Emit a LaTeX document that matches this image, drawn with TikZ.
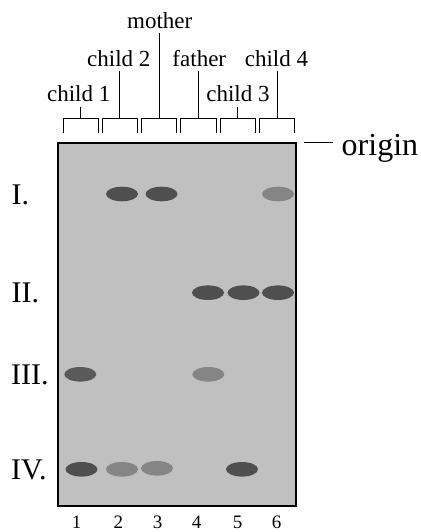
\documentclass[tikz,border=0pt]{standalone}
\usepackage{fontspec}
\setmainfont{Liberation Serif}
\definecolor{gelgray}{HTML}{C0C0C0}
\definecolor{bandDark}{HTML}{4F4F4F}
\definecolor{bandMid}{HTML}{5A5A5A}
\definecolor{bandLight}{HTML}{858585}
\begin{document}
\begin{tikzpicture}[x=1pt,y=-1pt,
  lbl/.style={font=\fontsize{23}{27}\selectfont, inner sep=0pt, anchor=base},
  lanenum/.style={font=\fontsize{19}{22}\selectfont, inner sep=0pt, anchor=base},
  rowlbl/.style={font=\fontsize{30}{34}\selectfont, inner sep=0pt, anchor=base west},
  bracketline/.style={line width=1pt},
  stem/.style={line width=1pt},
  gel/.style={fill=gelgray, draw=black, line width=1.5pt}]
\useasboundingbox (0,0) rectangle (420,532);

% gel slab
\path[gel] (58,143) rectangle (296,506);

% origin marker
\coordinate (o1) at (304,142.5);
\coordinate (o2) at (333,142.5);
\draw[line width=1pt] (o1) -- (o2);
\node[font=\fontsize{32}{36}\selectfont, inner sep=0pt, anchor=base west] (origin) at (341.5,155) {origin};

% lane brackets (pitch 39.3) with a top-centre coordinate each
\foreach \i in {1,...,6}{
  \pgfmathsetmacro{\xl}{63+39.3*(\i-1)}
  \pgfmathsetmacro{\xr}{\xl+35.3}
  \pgfmathsetmacro{\xc}{\xl+17.65}
  \draw[bracketline] (\xl,133) -- (\xl,118) -- (\xr,118) -- (\xr,133);
  \coordinate (b\i) at (\xc,118);
}

% sample labels
\node[lbl] (child1) at (78.7,101.7) {child 1};
\node[lbl] (child2) at (118.8,66.7) {child 2};
\node[lbl] (mother) at (159.7,28.3) {mother};
\node[lbl] (father) at (199.3,66.7) {father};
\node[lbl] (child3) at (238,101.7) {child 3};
\node[lbl] (child4) at (276.5,66.7) {child 4};

% stems from labels down to brackets
\coordinate (s1) at (b1 |- 0,106.7);
\coordinate (s2) at (b2 |- 0,70.7);
\coordinate (s3) at (b3 |- 0,33);
\coordinate (s4) at (b4 |- 0,70.7);
\coordinate (s5) at (b5 |- 0,106.7);
\coordinate (s6) at (b6 |- 0,70.7);
\foreach \i in {1,...,6}{ \draw[stem] (s\i) -- (b\i); }

% row labels
\node[rowlbl] (rowI)   at (11.5,204)   {I.};
\node[rowlbl] (rowII)  at (11.5,302.5) {II.};
\node[rowlbl] (rowIII) at (11,384.5)   {III.};
\node[rowlbl] (rowIV)  at (11,479.5)   {IV.};

% bands
\def\bandrx{16pt}
\def\bandry{7.3pt}
% row I
\fill[bandDark]  (122,194)   ellipse [x radius=\bandrx, y radius=\bandry];
\fill[bandDark]  (161.5,194) ellipse [x radius=\bandrx, y radius=\bandry];
\fill[bandLight] (278,194)   ellipse [x radius=\bandrx, y radius=\bandry];
% row II
\fill[bandDark]  (208,292.7)   ellipse [x radius=\bandrx, y radius=\bandry];
\fill[bandDark]  (243.5,292.7) ellipse [x radius=\bandrx, y radius=\bandry];
\fill[bandDark]  (278,292.7)   ellipse [x radius=\bandrx, y radius=\bandry];
% row III
\fill[bandMid]   (80.3,374.3)  ellipse [x radius=\bandrx, y radius=\bandry];
\fill[bandLight] (208.3,374.3) ellipse [x radius=\bandrx, y radius=\bandry];
% row IV
\fill[bandDark]  (81.5,469.3) ellipse [x radius=\bandrx, y radius=\bandry];
\fill[bandLight] (122,469.3)  ellipse [x radius=\bandrx, y radius=\bandry];
\fill[bandLight] (157,468.3)  ellipse [x radius=\bandrx, y radius=\bandry];
\fill[bandDark]  (242,469.3)  ellipse [x radius=\bandrx, y radius=\bandry];

% lane numbers
\node[lanenum] (n1) at (76.7,528) {1};
\node[lanenum] (n2) at (118.3,528) {2};
\node[lanenum] (n3) at (157.7,528) {3};
\node[lanenum] (n4) at (196.7,528) {4};
\node[lanenum] (n5) at (237.7,528) {5};
\node[lanenum] (n6) at (276.7,528) {6};
\end{tikzpicture}
\end{document}
